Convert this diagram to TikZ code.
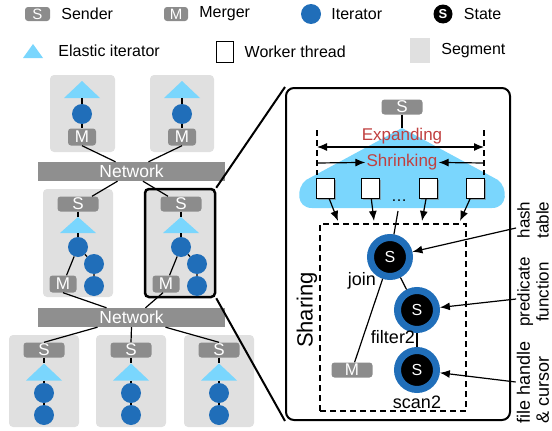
\documentclass[tikz,border=0pt]{standalone}
\usepackage{fontspec}
\setmainfont{Liberation Sans}
\usetikzlibrary{arrows.meta,calc,positioning,shadows}
\definecolor{boxgray}{RGB}{140,140,140}
\definecolor{netgray}{RGB}{143,143,143}
\definecolor{seggray}{RGB}{224,224,224}
\definecolor{iterblue}{RGB}{32,110,185}
\definecolor{elasticblue}{RGB}{122,214,253}
\definecolor{labelred}{RGB}{192,64,64}

\begin{document}
\begin{tikzpicture}[x=1pt, y=-1pt, >={Latex[length=10pt, width=8pt]},
  lbl/.style={font=\fontsize{16}{18}\selectfont, inner sep=1pt},
  sbox/.style={fill=boxgray, rounded corners=3pt, text=white, inner sep=0pt, minimum width=41pt, minimum height=15pt, font=\fontsize{17}{17}\selectfont},
  iter/.style={circle, fill=iterblue, minimum size=20pt, inner sep=0pt},
  elastic/.style={inner sep=0pt, minimum width=36pt, minimum height=17pt,
    path picture={\fill[elasticblue] (path picture bounding box.south west) -- (path picture bounding box.north) -- (path picture bounding box.south east) -- cycle;}},
  seg/.style={fill=seggray, rounded corners=4pt, inner sep=0pt},
  net/.style={fill=netgray, text=white, inner sep=0pt, minimum width=187pt, minimum height=19pt, font=\fontsize{17.5}{18}\selectfont},
  stato/.style={circle, fill=black, draw=iterblue, line width=7pt, minimum size=39pt, inner sep=0pt, text=white, font=\fontsize{16}{16}\selectfont},
  worker/.style={draw, fill=white, line width=1pt, minimum width=18pt, minimum height=20pt, inner sep=0pt, drop shadow={shadow xshift=1.5pt, shadow yshift=-2pt, opacity=0.6}},
  link/.style={line width=1.2pt},
  freccia/.style={line width=1.2pt, ->},
  tratt/.style={line width=1.1pt, dash pattern=on 6pt off 4pt}]

\useasboundingbox (0,0) rectangle (552,431);

% Legenda
\node[sbox, minimum width=25pt, minimum height=14pt, font=\fontsize{15}{15}\selectfont] (legS) at (37.5,14) {S};
\node[lbl, right=10pt of legS] (legSt) {Sender};
\node[sbox, minimum width=24pt, minimum height=14pt, font=\fontsize{15}{15}\selectfont] (legM) at (176,14) {M};
\node[lbl, right=10pt of legM] (legMt) {Merger};
\node[iter] (legI) at (311,14) {};
\node[lbl, right=9pt of legI] (legIt) {Iterator};
\node[circle, fill=black, text=white, minimum size=19pt, inner sep=0pt, font=\bfseries\fontsize{13}{13}\selectfont] (legX) at (443,14) {S};
\node[lbl, right=10pt of legX] (legXt) {State};

\node[elastic, minimum width=20pt, minimum height=14pt] (legE) at (33,51) {};
\node[lbl, right=14pt of legE] (legEt) {Elastic iterator};
\node[draw, line width=1pt, minimum width=17pt, minimum height=21pt, inner sep=0pt] (legW) at (224.5,51.5) {};
\node[lbl, right=10pt of legW] (legWt) {Worker thread};
\node[fill=seggray, minimum width=20pt, minimum height=25pt, inner sep=0pt] (legG) at (420,50.5) {};
\node[lbl, right=10pt of legG] (legGt) {Segment};

% Segmenti in alto
\node[seg, minimum width=65pt, minimum height=77pt] (seg1) at (82.5,113.5) {};
\node[seg, minimum width=64pt, minimum height=77pt] (seg2) at (182,113.5) {};
\node[elastic] (tri1) at (82,89.5) {};
\node[iter] (c1) at (82,114) {};
\node[sbox, minimum width=28pt, minimum height=17pt] (m1) at (82,137) {M};
\node[elastic] (tri2) at (182,89.5) {};
\node[iter] (c2) at (182,114) {};
\node[sbox, minimum width=28pt, minimum height=17pt] (m2) at (182,137) {M};
\draw[link] (tri1) -- (c1) -- (m1);
\draw[link] (tri2) -- (c2) -- (m2);

\node[net] (net1) at (131.5,171.5) {Network};
\draw[link] (m1.south) -- ([xshift=-16pt]net1.north);
\draw[link] (m2.south) -- ([xshift=17pt]net1.north);

% Segmenti centrali
\node[seg, minimum width=70pt, minimum height=108pt] (seg3) at (78,243) {};
\node[seg, draw, line width=2.5pt, minimum width=70pt, minimum height=108pt] (seg4) at (180,243) {};
\foreach \n/\x in {3/78, 4/181} {
  \node[sbox] (s\n) at (\x,204) {S};
  \node[elastic, minimum height=16pt] (tri\n) at (\x,225) {};
  \node[iter] (c\n1) at (\x,247) {};
  \node[iter] (c\n2) at (\x+16,264) {};
  \node[iter] (c\n3) at (\x+16,286) {};
  \node[sbox, minimum width=27pt, minimum height=17pt] (m\n) at (\x-15,284) {M};
  \draw[link] (s\n) -- (tri\n);
  \draw[link] (tri\n) -- (c\n1);
  \draw[link] (c\n1) -- (m\n);
  \draw[link] (c\n1) -- (c\n2) -- (c\n3);
}
\draw[link] ([xshift=-14pt]net1.south) -- ([xshift=14pt]s3.north);
\draw[link] ([xshift=11.5pt]net1.south) -- ([xshift=-13pt]s4.north);

\node[net] (net2) at (131.5,317.5) {Network};
\draw[link] (m3.south) -- ([xshift=-25pt]net2.north);
\draw[link] ([xshift=-3pt]m4.south) -- ([xshift=14pt]net2.north);

% Segmenti in basso
\foreach \n/\x in {5/44, 6/131, 7/219} {
  \node[seg, minimum width=70pt, minimum height=92pt] (seg\n) at (\x,381) {};
  \node[sbox] (s\n) at (\x,350) {S};
  \node[elastic] (tri\n) at (\x,372) {};
  \node[iter] (c\n1) at (\x,393) {};
  \node[iter] (c\n2) at (\x,415) {};
  \draw[link] (s\n) -- (tri\n);
  \draw[link] (tri\n) -- (c\n1) -- (c\n2);
}
\draw[link] ([xshift=-34pt]net2.south) -- (s5.north);
\draw[link] (net2.south) -- (s6.north);
\draw[link] ([xshift=34pt]net2.south) -- (s7.north);

% Dettaglio del segmento
\node[draw, line width=2pt, rounded corners=8pt, minimum width=224pt, minimum height=332pt] (big) at (398,254) {};
\draw[line width=2pt] (seg4.north east) -- (big.north west);
\draw[line width=2pt] (seg4.south east) -- (big.south west);

\node[sbox] (sT) at (402,107) {S};
\coordinate (apice) at (402,128);
\coordinate (blobB) at (398,211);
\fill[elasticblue] (apice) -- (306,180) .. controls (296,188) and (296,208) .. (312,208)
  -- (492,208) .. controls (508,208) and (508,188) .. (498,180) -- cycle;
\draw[link] (sT) -- (apice);

\coordinate (eL1) at (317,130);
\coordinate (eL2) at (317,175);
\coordinate (eR1) at (484,130);
\coordinate (eR2) at (484,175);
\draw[tratt] (eL1) -- (eL2);
\draw[tratt] (eR1) -- (eR2);

\coordinate (expL) at (317,147);
\coordinate (expR) at (484,147);
\node[lbl, text=labelred, font=\fontsize{17}{17}\selectfont] (espande) at (402,136) {Expanding};
\draw[freccia, <->] (expL) -- (expR);
\coordinate (shrL) at (317,163);
\coordinate (shrR) at (484,163);
\node[lbl, text=labelred, font=\fontsize{17}{17}\selectfont] (riduce) at (402,162) {Shrinking};
\draw[freccia] (shrL) -- (riduce);
\draw[freccia] (shrR) -- (riduce);

\node[worker] (w1) at (325,188) {};
\node[worker] (w2) at (370,188) {};
\node[worker] (w3) at (428,188) {};
\node[worker] (w4) at (475,188) {};
\node[lbl, anchor=base] (puntini) at (399,201) {\dots};

\node[draw, tratt, minimum width=146pt, minimum height=187pt, inner sep=0pt] (condiv) at (393,317.5) {};
\coordinate (t1) at (338,221);
\coordinate (t2) at (374,221);
\coordinate (t3) at (422,221);
\coordinate (t4) at (460,221);
\foreach \i in {1,...,4} \draw[freccia] (w\i) -- (t\i);

% Stati condivisi
\node[stato] (join) at (390,257) {S};
\node[stato] (filtro) at (417,310) {S};
\node[stato] (scan) at (417,370) {S};
\node[sbox] (mS) at (352,370) {M};
\draw[link] (blobB) -- (join);
\draw[link] (join) -- (filtro);
\draw[link] (filtro) -- (scan);
\draw[link] (join) -- (mS);
\node[lbl, font=\fontsize{18}{18}\selectfont] (joinL) at (362,281) {join};
\node[lbl, font=\fontsize{18}{18}\selectfont] (filtroL) at (393,337) {filter2};
\node[lbl, font=\fontsize{18}{18}\selectfont] (scanL) at (417,402) {scan2};
\node[rotate=90, font=\fontsize{22}{22}\selectfont] (sharL) at (307,310) {Sharing};

% Annotazioni a destra
\node[lbl, rotate=90, align=center, font=\fontsize{17}{19}\selectfont] (hashL) at (533,220) {hash\\table};
\node[lbl, rotate=90, align=center, font=\fontsize{17}{19}\selectfont] (predL) at (533,292) {predicate\\function};
\node[lbl, rotate=90, align=left, font=\fontsize{18}{19}\selectfont] (fileL) at (533,382) {file handle\\\& cursor};
\draw[freccia] ([yshift=-8pt]hashL.north) -- (join);
\draw[freccia] ([yshift=-7pt]predL.north) -- (filtro);
\draw[freccia] (fileL.north) -- (scan);

\end{tikzpicture}
\end{document}
